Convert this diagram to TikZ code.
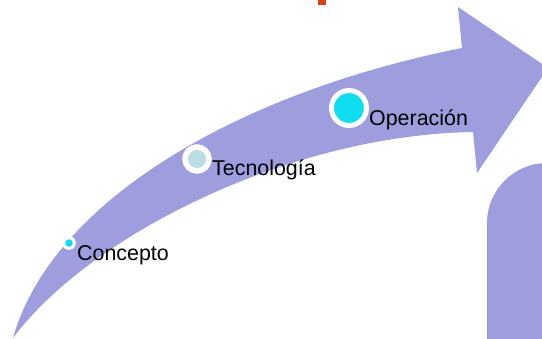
\documentclass[tikz,border=0pt]{standalone}
\usepackage{fontspec}
\setmainfont{Liberation Sans}
\definecolor{band}{RGB}{158,158,222}
\definecolor{dotcyan}{RGB}{14,221,240}
\definecolor{dotpale}{RGB}{186,222,226}
\definecolor{markred}{RGB}{214,66,18}
\begin{document}
\begin{tikzpicture}[x=1pt,y=-1pt,
  stage/.style={circle,draw=white,inner sep=0pt},
  label/.style={anchor=base west,inner sep=0pt,font=\fontsize{21.4}{25}\selectfont}]
\useasboundingbox (0,0) rectangle (542,339);
\clip (0,0) rectangle (542,339);

% small mark at the top edge
\fill[markred] (318,-2) rectangle (326,5);

% curved arrow: upper edge, head, lower edge
\fill[band]
  (13,338) .. controls (52,200) and (240,92) .. (462,48)
  -- (458,7) -- (548,68) -- (477,173) -- (473,132)
  .. controls (290,135) and (90,235) .. (13,338)
  -- cycle;

% rounded block at the lower right
\fill[band] (487,345) -- (487,223) .. controls (487,190) and (514,163) .. (547,163)
  -- (560,163) -- (560,345) -- cycle;

% stages along the arrow
\node[stage,fill=dotcyan,minimum size=11pt,line width=3pt] (c1) at (69,243) {};
\node[stage,fill=dotpale,minimum size=24pt,line width=5.5pt] (c2) at (197,159) {};
\node[stage,fill=dotcyan,minimum size=35pt,line width=5pt] (c3) at (349,108) {};

\node[label] (t1) at (77,261) {Concepto};
\node[label] (t2) at (212,176) {Tecnología};
\node[label] (t3) at (369,126) {Operación};
\end{tikzpicture}
\end{document}
